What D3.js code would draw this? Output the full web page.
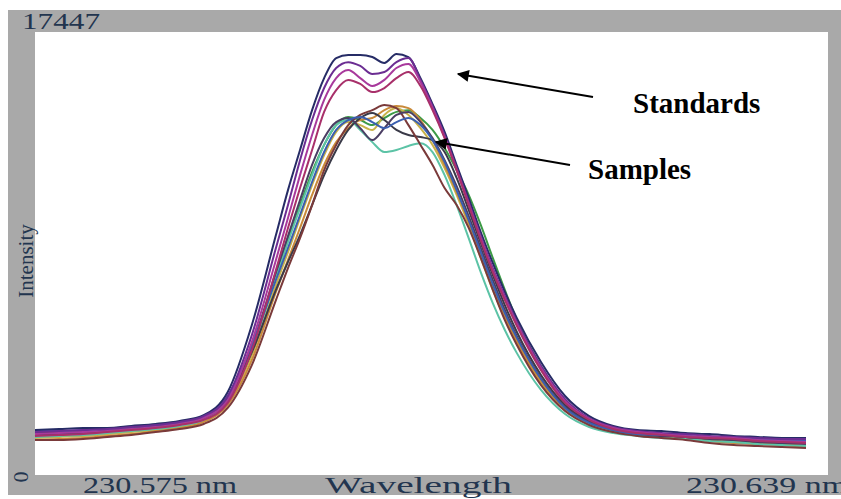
<!DOCTYPE html>
<html>
<head>
<meta charset="utf-8">
<script src="https://cdn.jsdelivr.net/npm/d3@7"></script>
<style>
  body { margin: 0; background: #fff; }
  text { font-family: "Liberation Serif", "Times New Roman", serif; }
</style>
</head>
<body>
<div id="graph"></div>
<script>
// wavelength grid (nm), finer across the peak
var wavelengths = [230.575, 230.577, 230.579, 230.581, 230.583, 230.585, 230.587, 230.589, 230.591, 230.593, 230.595,
  230.596, 230.597, 230.598, 230.599, 230.600, 230.601, 230.602, 230.603, 230.604, 230.605,
  230.606, 230.607, 230.608, 230.609, 230.610, 230.611, 230.612, 230.613, 230.614, 230.615,
  230.617, 230.619, 230.621, 230.623, 230.625, 230.627, 230.629, 230.631, 230.633, 230.635, 230.637, 230.639];

// standards (intensity counts)
var stdA = [1770, 1810, 1850, 1850, 1930, 2010, 2130, 2360, 3270, 5910, 9450,
  11220, 12800, 14370, 15630, 16420, 16540, 16540, 16460, 16230, 16580, 16460, 15630, 14610, 13510, 12210, 10910, 9570, 8350, 7210, 6180,
  4450, 3110, 2320, 1930, 1770, 1730, 1650, 1610, 1540, 1500, 1460, 1460];
var stdB = [1690, 1730, 1770, 1810, 1890, 1970, 2090, 2320, 3110, 5510, 8940,
  10630, 12400, 13980, 15240, 16030, 16260, 16110, 15790, 15870, 16260, 16420, 15560, 14530, 13390, 12090, 10750, 9410, 8150, 7050, 6030,
  4290, 2990, 2240, 1890, 1730, 1650, 1610, 1540, 1500, 1460, 1420, 1420];
var stdC = [1610, 1650, 1690, 1730, 1810, 1890, 2010, 2240, 2950, 5240, 8470,
  10120, 11810, 13390, 14770, 15630, 15950, 15630, 15320, 15560, 16030, 16190, 15480, 14450, 13310, 12010, 10670, 9330, 8070, 6970, 5950,
  4210, 2910, 2210, 1850, 1690, 1610, 1540, 1500, 1460, 1380, 1340, 1300];
var stdD = [1540, 1580, 1610, 1690, 1770, 1850, 1970, 2170, 2840, 4920, 8070,
  9730, 11300, 12800, 14300, 15160, 15560, 15400, 15080, 15240, 15630, 15870, 15320, 14370, 13270, 12010, 10630, 9250, 7990, 6890, 5870,
  4130, 2840, 2170, 1810, 1650, 1580, 1500, 1460, 1420, 1340, 1300, 1260];

// samples
var smp1 = [1540, 1610, 1610, 1690, 1770, 1850, 1970, 2210, 2950, 5000, 7880,
  9250, 10630, 11930, 13000, 13780, 14100, 13980, 13780, 14060, 14300, 14370, 14060, 13590, 12880, 12010, 11030, 9850, 8550, 7290, 6100,
  4290, 2950, 2210, 1850, 1690, 1610, 1540, 1460, 1380, 1340, 1300, 1260];
var smp2 = [1460, 1500, 1540, 1610, 1690, 1770, 1890, 2130, 2840, 4730, 7480,
  8780, 10120, 11420, 12600, 13510, 13900, 13780, 13590, 14180, 14450, 14180, 13660, 13000, 12090, 11030, 9850, 8550, 7290, 6180, 5200,
  3620, 2560, 2010, 1730, 1580, 1500, 1460, 1380, 1300, 1260, 1220, 1140];
var smp3 = [1380, 1420, 1460, 1540, 1610, 1730, 1850, 2090, 2760, 4530, 7210,
  8470, 9730, 11030, 12210, 13110, 13660, 13980, 14060, 14370, 14530, 14450, 13980, 13190, 12210, 11140, 9960, 8660, 7400, 6260, 5280,
  3700, 2600, 2050, 1770, 1610, 1540, 1460, 1340, 1260, 1220, 1180, 1100];
var smp4 = [1500, 1540, 1580, 1650, 1730, 1810, 1930, 2170, 2870, 4920, 7760,
  9180, 10510, 11810, 13000, 13780, 13980, 13590, 13110, 12720, 12800, 12960, 13070, 12720, 11810, 10630, 9330, 7990, 6770, 5710, 4800,
  3350, 2400, 1890, 1650, 1540, 1460, 1420, 1340, 1300, 1220, 1180, 1140];
var smp5 = [1650, 1690, 1690, 1770, 1850, 1930, 2050, 2280, 3030, 4840, 7290,
  8390, 9450, 10630, 11810, 12800, 13590, 14060, 14260, 13980, 13590, 13390, 13310, 13190, 12720, 11700, 10440, 9140, 7880, 6690, 5630,
  3940, 2760, 2130, 1810, 1650, 1580, 1500, 1460, 1420, 1380, 1340, 1300];
var smp6 = [1380, 1380, 1420, 1500, 1580, 1690, 1810, 2010, 2640, 4330, 6890,
  8150, 9330, 10630, 12010, 13000, 13780, 14180, 14370, 14570, 14450, 13780, 13000, 12210, 11300, 10630, 9730, 8550, 7290, 6100, 5120,
  3540, 2520, 1970, 1690, 1540, 1460, 1380, 1260, 1180, 1140, 1100, 1060];
var smp7 = [1580, 1610, 1650, 1730, 1810, 1890, 2010, 2240, 2990, 5080, 7990,
  9410, 10830, 12210, 13270, 13900, 14060, 13660, 13190, 13660, 14180, 14300, 13900, 13270, 12400, 11380, 10200, 8940, 7680, 6500, 5470,
  3820, 2680, 2090, 1770, 1610, 1540, 1500, 1420, 1380, 1300, 1260, 1220];
var smp8 = [1730, 1730, 1770, 1810, 1890, 1970, 2090, 2320, 3110, 5120, 7680,
  8940, 10240, 11540, 12720, 13590, 13980, 14100, 13900, 13660, 13900, 14060, 13780, 13190, 12330, 11220, 10040, 8780, 7520, 6380, 5400,
  3780, 2640, 2050, 1770, 1610, 1580, 1540, 1500, 1460, 1420, 1380, 1340];

var standards = [stdA, stdB, stdC, stdD];
var samples = [smp1, smp2, smp3, smp4, smp5, smp6, smp7, smp8];

var xTickLabels = ["230.575 nm", "230.639 nm"];
var yTickLabels = ["0", "17447"];
var yMax = 17447;

// colours (style only)
var stdColors = ["#262c66", "#6b2d92", "#a8399c", "#a8306a"];
var smpColors = ["#3c9a46", "#c9b24a", "#c98a3a", "#5cc3a6", "#3a3a48", "#7a3a3a", "#4a3d63", "#3a5fb0"];

var width = 841, height = 499;
var serif = "'Liberation Serif', 'Times New Roman', serif";

var svg = d3.select("#graph").append("svg")
  .attr("width", width)
  .attr("height", height);

// grey frame and white plot area
svg.append("rect").attr("x", 8).attr("y", 10).attr("width", 833).attr("height", 485).attr("fill", "#a9a9a9");
svg.append("rect").attr("x", 35).attr("y", 32).attr("width", 793).attr("height", 443).attr("fill", "#ffffff");

var x = d3.scaleLinear()
  .domain([wavelengths[0], wavelengths[wavelengths.length - 1]])
  .range([35, 806]);

var y = d3.scaleLinear()
  .domain([0, yMax])
  .range([475, 32]);

var line = d3.line()
  .x(function(d, i) { return x(wavelengths[i]); })
  .y(function(d) { return y(d); })
  .curve(d3.curveMonotoneX);

var plot = svg.append("g");

plot.selectAll(".sample")
  .data(samples)
  .enter()
  .append("path")
  .attr("class", "sample")
  .attr("d", line)
  .attr("fill", "none")
  .attr("stroke", function(d, i) { return smpColors[i]; })
  .attr("stroke-width", 2);

plot.selectAll(".standard")
  .data(standards)
  .enter()
  .append("path")
  .attr("class", "standard")
  .attr("d", line)
  .attr("fill", "none")
  .attr("stroke", function(d, i) { return stdColors[i]; })
  .attr("stroke-width", 2);

// axis texts
var txtColor = "#22354f";
svg.append("text")
  .attr("x", 22).attr("y", 29)
  .attr("font-family", serif)
  .attr("font-size", 24)
  .attr("textLength", 78).attr("lengthAdjust", "spacingAndGlyphs")
  .attr("fill", txtColor)
  .text(yTickLabels[1]);

svg.append("text")
  .attr("transform", "translate(28,477) rotate(-90)")
  .attr("text-anchor", "middle")
  .attr("font-family", serif)
  .attr("font-size", 22)
  .attr("fill", txtColor)
  .text(yTickLabels[0]);

svg.append("text")
  .attr("transform", "translate(33,261) rotate(-90)")
  .attr("text-anchor", "middle")
  .attr("font-family", serif)
  .attr("font-size", 21)
  .attr("fill", txtColor)
  .text("Intensity");

svg.append("text")
  .attr("x", 83).attr("y", 493)
  .attr("font-family", serif)
  .attr("font-size", 23)
  .attr("textLength", 154).attr("lengthAdjust", "spacingAndGlyphs")
  .attr("fill", txtColor)
  .text(xTickLabels[0]);

svg.append("text")
  .attr("x", 325).attr("y", 493)
  .attr("font-family", serif)
  .attr("font-size", 23)
  .attr("textLength", 187).attr("lengthAdjust", "spacingAndGlyphs")
  .attr("fill", txtColor)
  .text("Wavelength");

svg.append("text")
  .attr("x", 686).attr("y", 493)
  .attr("font-family", serif)
  .attr("font-size", 23)
  .attr("textLength", 162).attr("lengthAdjust", "spacingAndGlyphs")
  .attr("fill", txtColor)
  .text(xTickLabels[1]);

// annotations
svg.append("defs").append("marker")
  .attr("id", "head")
  .attr("viewBox", "0 0 10 10")
  .attr("refX", 9).attr("refY", 5)
  .attr("markerWidth", 7).attr("markerHeight", 6)
  .attr("markerUnits", "strokeWidth")
  .attr("orient", "auto")
  .append("path")
  .attr("d", "M0,0 L10,5 L0,10 Z")
  .attr("fill", "#000");

svg.append("line")
  .attr("x1", 593).attr("y1", 97).attr("x2", 458).attr("y2", 74)
  .attr("stroke", "#000").attr("stroke-width", 2)
  .attr("marker-end", "url(#head)");

svg.append("line")
  .attr("x1", 570).attr("y1", 165).attr("x2", 436).attr("y2", 142)
  .attr("stroke", "#000").attr("stroke-width", 2)
  .attr("marker-end", "url(#head)");

svg.append("text")
  .attr("x", 633).attr("y", 113)
  .attr("font-family", serif)
  .attr("font-size", 29).attr("font-weight", "bold")
  .attr("fill", "#000")
  .text("Standards");

svg.append("text")
  .attr("x", 588).attr("y", 179)
  .attr("font-family", serif)
  .attr("font-size", 29).attr("font-weight", "bold")
  .attr("fill", "#000")
  .text("Samples");
</script>
</body>
</html>
